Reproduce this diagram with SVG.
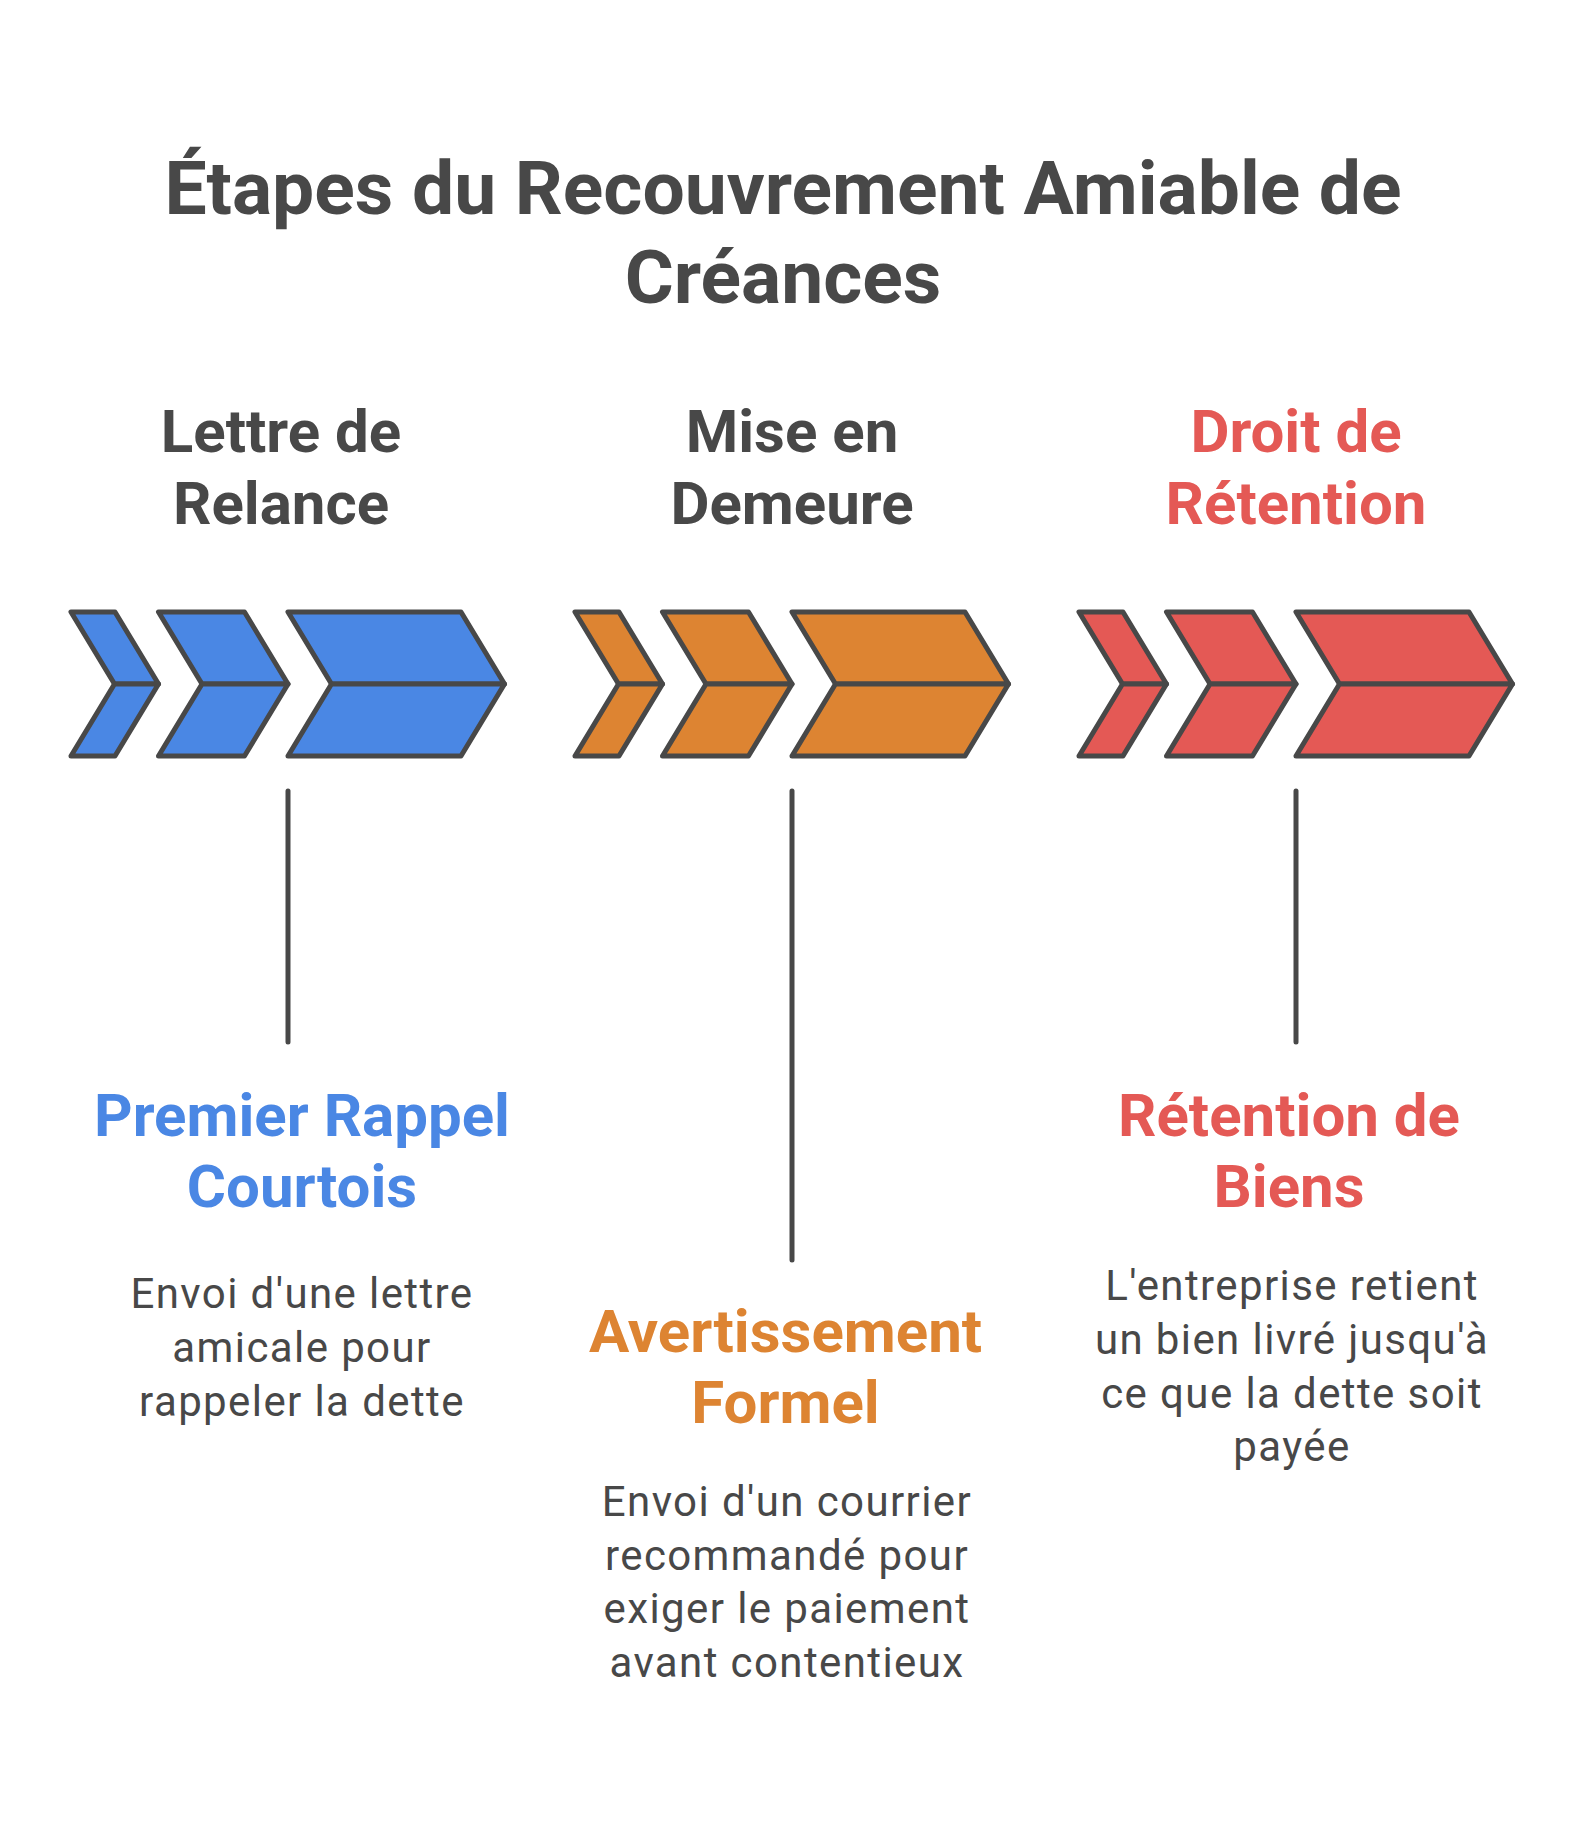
<svg xmlns="http://www.w3.org/2000/svg" width="1584" height="1836" viewBox="0 0 1584 1836">
<style>
.bg{fill:#ffffff}
.sh{stroke:#484848;stroke-width:5;stroke-linejoin:round}
.blue{fill:#4A87E4}
.orange{fill:#DD8432}
.red{fill:#E45955}
.t{font-family:Roboto,"Liberation Sans",sans-serif;text-anchor:middle}
.title{font-size:75px;font-weight:700;fill:#484848}
.head{font-size:60px;font-weight:700}
.sub{font-size:60px;font-weight:700}
.desc{font-size:42px;font-weight:400;fill:#484848;letter-spacing:1.4px}
.conn{stroke:#484848;stroke-width:5;stroke-linecap:round;fill:none}
</style>
<defs>
<g id="chev">
<polygon points="71,612 115,612 158.5,684 114.5,684"/>
<polygon points="114.5,684 158.5,684 115,756 71,756"/>
<polygon points="158.5,612 244.5,612 288,684 202,684"/>
<polygon points="202,684 288,684 244.5,756 158.5,756"/>
<polygon points="288,612 461,612 504.5,684 331.5,684"/>
<polygon points="331.5,684 504.5,684 461,756 288,756"/>
</g>
</defs>
<rect class="bg" x="0" y="0" width="1584" height="1836"/>
<g id="title">
<text class="t title" x="783" y="214">Étapes du Recouvrement Amiable de</text>
<text class="t title" x="783" y="303">Créances</text>
</g>
<g id="connectors">
<line class="conn" x1="288" y1="791" x2="288" y2="1042"/>
<line class="conn" x1="792" y1="791" x2="792" y2="1260"/>
<line class="conn" x1="1296" y1="791" x2="1296" y2="1042"/>
</g>
<g id="step1">
<text class="t head" fill="#484848" x="281" y="452">Lettre de</text>
<text class="t head" fill="#484848" x="281" y="524">Relance</text>
<use href="#chev" class="sh blue"/>
<text class="t sub" fill="#4A87E4" x="302" y="1136">Premier Rappel</text>
<text class="t sub" fill="#4A87E4" x="302" y="1207">Courtois</text>
<text class="t desc" x="302" y="1308">Envoi d'une lettre</text>
<text class="t desc" x="302" y="1362">amicale pour</text>
<text class="t desc" x="302" y="1416">rappeler la dette</text>
</g>
<g id="step2">
<text class="t head" fill="#484848" x="792" y="452">Mise en</text>
<text class="t head" fill="#484848" x="792" y="524">Demeure</text>
<use href="#chev" x="504" class="sh orange"/>
<text class="t sub" fill="#DD8432" x="785.5" y="1352">Avertissement</text>
<text class="t sub" fill="#DD8432" x="785.5" y="1423">Formel</text>
<text class="t desc" x="787" y="1516">Envoi d'un courrier</text>
<text class="t desc" x="787" y="1570">recommandé pour</text>
<text class="t desc" x="787" y="1623">exiger le paiement</text>
<text class="t desc" x="787" y="1677">avant contentieux</text>
</g>
<g id="step3">
<text class="t head" fill="#E45955" x="1296" y="452">Droit de</text>
<text class="t head" fill="#E45955" x="1296" y="524">Rétention</text>
<use href="#chev" x="1008" class="sh red"/>
<text class="t sub" fill="#E45955" x="1289" y="1136">Rétention de</text>
<text class="t sub" fill="#E45955" x="1289" y="1207">Biens</text>
<text class="t desc" x="1292" y="1300">L'entreprise retient</text>
<text class="t desc" x="1292" y="1354">un bien livré jusqu'à</text>
<text class="t desc" x="1292" y="1408">ce que la dette soit</text>
<text class="t desc" x="1292" y="1461">payée</text>
</g>
</svg>
